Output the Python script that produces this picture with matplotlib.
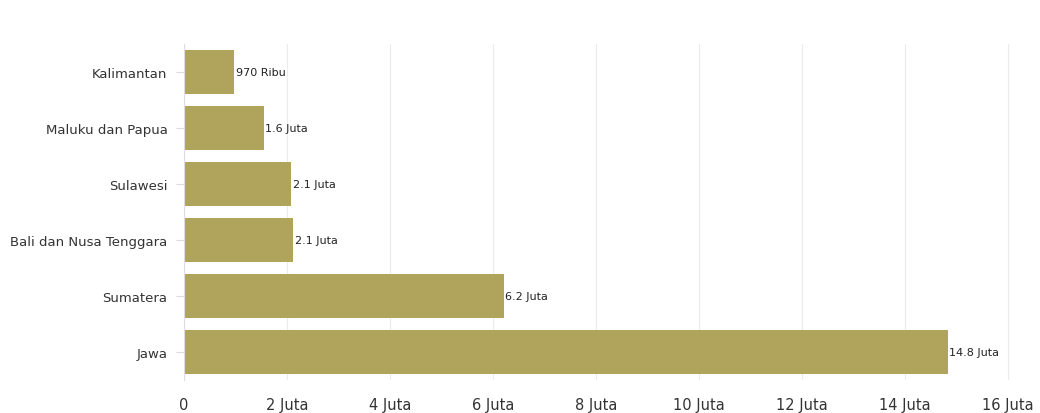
import matplotlib.pyplot as plt

wilayah = ["Jawa", "Sumatera", "Bali dan Nusa Tenggara", "Sulawesi",
           "Maluku dan Papua", "Kalimantan"]
jumlah = [14.83, 6.21, 2.12, 2.08, 1.55, 0.97]  # juta
label_nilai = ["14.8 Juta", "6.2 Juta", "2.1 Juta", "2.1 Juta", "1.6 Juta", "970 Ribu"]
x_ticks = [0, 2, 4, 6, 8, 10, 12, 14, 16]
x_labels = ["0"] + ["%d Juta" % t for t in x_ticks[1:]]

fig = plt.figure(figsize=(10.4, 4.14), dpi=100)
ax = fig.add_axes([0.177, 0.080, 0.812, 0.811])

pos = list(range(len(wilayah)))
ax.barh(pos, jumlah, height=0.8, color="#b0a35c", zorder=2)
for p, v, t in zip(pos, jumlah, label_nilai):
    ax.text(v + 0.03, p, t, va="center", ha="left", fontsize=8, color="#222222", zorder=3)

ax.set_xlim(0, 16.4)
ax.set_ylim(-0.5, 5.5)
ax.set_yticks(pos)
ax.set_yticklabels(wilayah, fontsize=9.5, color="#333333")
ax.set_xticks(x_ticks)
ax.set_xticklabels(x_labels, fontsize=10.5, color="#333333")
ax.grid(axis="x", color="#ebebeb", linewidth=0.8, zorder=0)
for s in ["top", "right", "bottom"]:
    ax.spines[s].set_visible(False)
ax.spines["left"].set_color("#dddddd")
ax.tick_params(axis="y", length=6, color="#dddddd", pad=6)
ax.tick_params(axis="x", length=0, pad=12)

fig.savefig("out.png", dpi=100)
